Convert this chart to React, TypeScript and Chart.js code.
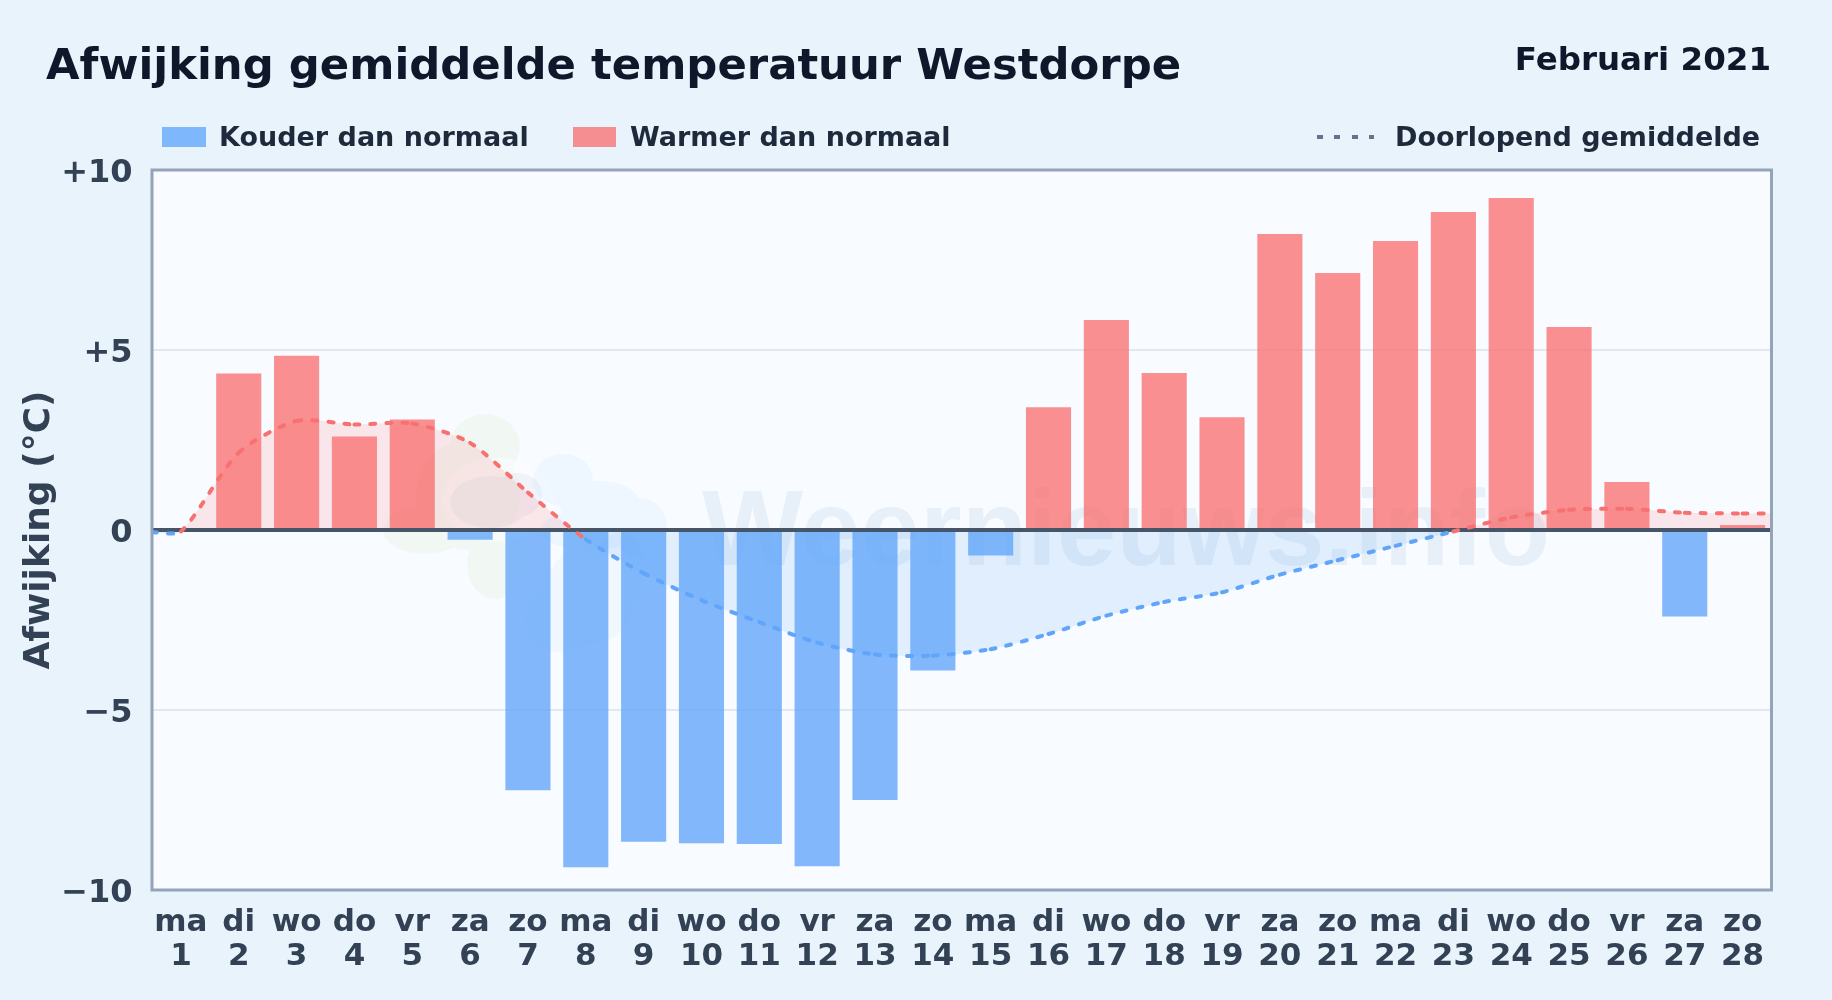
import React, { useEffect, useRef } from "react";
import { Chart, registerables } from "chart.js";

Chart.register(...registerables);

const weekdays = ["ma","di","wo","do","vr","za","zo","ma","di","wo","do","vr","za","zo","ma","di","wo","do","vr","za","zo","ma","di","wo","do","vr","za","zo"];
const days = ["1","2","3","4","5","6","7","8","9","10","11","12","13","14","15","16","17","18","19","20","21","22","23","24","25","26","27","28"];
const deviation = [0,4.35,4.84,2.6,3.07,-0.27,-7.23,-9.37,-8.66,-8.7,-8.72,-9.34,-7.5,-3.9,-0.71,3.41,5.83,4.36,3.13,8.22,7.14,8.03,8.83,9.22,5.64,1.33,-2.4,0.14];
const runningX = [0.5,1,2,3,4,5,6,7,8,9,10,11,12,13,14,15,16,17,18,19,20,21,22,23,24,25,26,27,28,28.5];
const runningMean = [-0.06,-0.04,2.15,3.03,2.93,2.96,2.42,1.04,-0.26,-1.2,-1.95,-2.56,-3.13,-3.46,-3.49,-3.31,-2.89,-2.38,-2.0,-1.73,-1.24,-0.84,-0.44,-0.04,0.35,0.56,0.59,0.48,0.46,0.46];
const yTickValues = [10,5,0,-5,-10];
const yTickLabels = ["+10","+5","0","\u22125","\u221210"];

const FONT = "'DejaVu Sans', sans-serif";
const BLUE_BAR = "rgba(96,165,250,0.78)";
const RED_BAR = "rgba(248,113,113,0.78)";
const BLUE_LINE = "#60a5fa";
const RED_LINE = "#f87171";

function blob(ctx: CanvasRenderingContext2D, color: string, parts: number[][]) {
  ctx.fillStyle = color;
  ctx.beginPath();
  for (const [x, y, rx, ry] of parts) {
    ctx.moveTo(x + rx, y);
    ctx.ellipse(x, y, rx, ry, 0, 0, Math.PI * 2);
  }
  ctx.fill();
}

const decor = {
  id: "decor",
  beforeDraw(chart: any) {
    const { ctx, chartArea: a } = chart;
    ctx.save();
    ctx.fillStyle = "#f8fbff";
    ctx.fillRect(a.left, a.top, a.right - a.left, a.bottom - a.top);
    // logo watermark
    blob(ctx, "rgba(190,225,150,0.10)", [[485,446,35,32],[468,495,52,55],[425,530,42,24],[495,565,28,34]]);
    blob(ctx, "rgba(255,255,255,0.35)", [[498,500,56,42]]);
    blob(ctx, "rgba(110,130,190,0.07)", [[490,502,40,26],[518,495,24,22]]);
    blob(ctx, "rgba(125,190,250,0.08)", [[563,480,30,26],[600,505,40,24],[640,528,27,30],[590,530,50,20]]);
    blob(ctx, "rgba(110,170,235,0.05)", [[590,595,45,50],[560,620,35,32],[620,570,25,38]]);
    // word watermark
    ctx.fillStyle = "rgba(90,140,190,0.10)";
    ctx.font = "bold 107px 'Liberation Sans', sans-serif";
    ctx.textAlign = "left";
    ctx.textBaseline = "alphabetic";
    ctx.fillText("Weernieuws.info", 702, 565);
    ctx.restore();
  },
  afterDatasetDraw(chart: any, args: any) {
    if (args.index !== 0) return;
    const { ctx, chartArea: a, scales } = chart;
    const y = scales.y.getPixelForValue(0);
    ctx.save();
    ctx.strokeStyle = "#475569";
    ctx.lineWidth = 4;
    ctx.beginPath();
    ctx.moveTo(a.left, y);
    ctx.lineTo(a.right, y);
    ctx.stroke();
    ctx.restore();
  },
  afterDraw(chart: any) {
    const { ctx, chartArea: a } = chart;
    ctx.save();
    ctx.strokeStyle = "#94a3b8";
    ctx.lineWidth = 3;
    ctx.strokeRect(a.left, a.top, a.right - a.left, a.bottom - a.top);
    ctx.restore();
  },
};

const textStyle = (left: number, baseline: number, size: number, color: string): React.CSSProperties => ({
  position: "absolute",
  left,
  top: baseline - 0.846 * size,
  fontFamily: FONT,
  fontWeight: 700,
  fontSize: size,
  lineHeight: `${size}px`,
  color,
  whiteSpace: "nowrap",
});

export default function App() {
  const ref = useRef<HTMLCanvasElement | null>(null);

  useEffect(() => {
    const linePoints = runningX.map((x, i) => ({ x, y: runningMean[i] }));
    const chart = new Chart(ref.current as HTMLCanvasElement, {
      type: "bar",
      data: {
        labels: weekdays.map((w, i) => [w, days[i]]),
        datasets: [
          {
            type: "bar",
            label: "Afwijking",
            data: deviation,
            backgroundColor: deviation.map((v) => (v < 0 ? BLUE_BAR : RED_BAR)),
            barPercentage: 0.78,
            categoryPercentage: 1,
            grouped: false,
            order: 3,
          },
          {
            type: "line",
            label: "Doorlopend gemiddelde (vlak)",
            xAxisID: "xLine",
            data: linePoints,
            borderWidth: 0,
            tension: 0.25,
            pointRadius: 0,
            order: 2,
            fill: { target: "origin", above: "rgba(248,113,113,0.15)", below: "rgba(96,165,250,0.15)" },
          },
          {
            type: "line",
            label: "Doorlopend gemiddelde",
            xAxisID: "xLine",
            data: linePoints,
            borderWidth: 4,
            borderDash: [5, 11],
            borderCapStyle: "round",
            tension: 0.25,
            pointRadius: 0,
            order: 1,
            fill: false,
            segment: {
              borderColor: (c: any) => (c.p0.parsed.y + c.p1.parsed.y >= 0 ? RED_LINE : BLUE_LINE),
              borderDashOffset: (c: any) => c.p0DataIndex * 1e-6,
            },
          },
        ],
      } as any,
      options: {
        animation: false,
        responsive: false,
        devicePixelRatio: 1,
        layout: { padding: { left: 0, right: 60.5, top: 170, bottom: 0 } },
        plugins: {
          legend: { display: false },
          tooltip: { enabled: false },
          filler: { drawTime: "beforeDatasetsDraw" },
        },
        scales: {
          x: {
            offset: true,
            grid: { display: false },
            border: { display: false },
            afterFit: (s: any) => { s.height = 110; },
            ticks: {
              autoSkip: false,
              maxRotation: 0,
              minRotation: 0,
              padding: 8,
              color: "#334155",
              font: { family: FONT, weight: "bold", size: 31, lineHeight: 1.09 },
            },
          },
          xLine: { type: "linear", display: false, min: 0.5, max: 28.5, offset: false },
          y: {
            min: -10,
            max: 10,
            afterFit: (s: any) => { s.width = 152; },
            afterBuildTicks: (s: any) => { s.ticks = yTickValues.map((value) => ({ value })); },
            grid: { color: "#e2e8f0", lineWidth: 2, drawTicks: false },
            border: { display: false },
            ticks: {
              padding: 19.5,
              color: "#334155",
              font: { family: FONT, weight: "bold", size: 32, lineHeight: "7px" },
              callback: (v: any) => ["", yTickLabels[yTickValues.indexOf(Number(v))]],
            },
            title: {
              display: true,
              text: "Afwijking (°C)",
              color: "#334155",
              padding: { top: 18, bottom: 0 },
              font: { family: FONT, weight: "bold", size: 36 },
            },
          },
        },
      } as any,
      plugins: [decor],
    });
    return () => chart.destroy();
  }, []);

  return (
    <div style={{ position: "fixed", inset: 0, width: 1832, height: 1000, background: "#e9f3fc", overflow: "hidden" }}>
      <canvas ref={ref} width={1832} height={1000} style={{ position: "absolute", left: 0, top: 0, width: 1832, height: 1000 }} />
      <div style={textStyle(46, 80, 43.35, "#0f172a")}>Afwijking gemiddelde temperatuur Westdorpe</div>
      <div style={{ ...textStyle(0, 70, 32.5, "#0f172a"), left: "auto", right: 61 }}>Februari 2021</div>
      <div style={{ position: "absolute", left: 162, top: 127, width: 44, height: 19.5, background: "rgba(96,165,250,0.78)" }} />
      <div style={textStyle(219, 146, 27, "#1e293b")}>Kouder dan normaal</div>
      <div style={{ position: "absolute", left: 573, top: 127, width: 43, height: 19.5, background: "rgba(248,113,113,0.78)" }} />
      <div style={textStyle(630, 146, 27, "#1e293b")}>Warmer dan normaal</div>
      <div style={{ position: "absolute", left: 1317, top: 135, width: 57, height: 4, background: "repeating-linear-gradient(90deg,#64748b 0 6px,transparent 6px 17.3px)" }} />
      <div style={textStyle(1395, 146, 27, "#1e293b")}>Doorlopend gemiddelde</div>
    </div>
  );
}
